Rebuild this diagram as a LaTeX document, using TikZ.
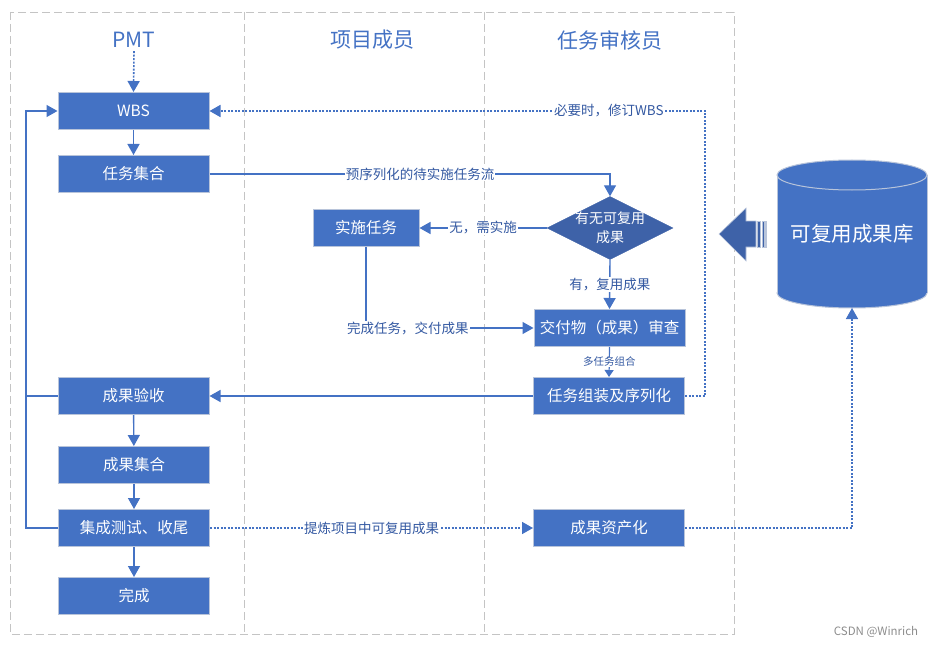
\documentclass[tikz,border=0pt]{standalone}
\usepackage{fontspec}
\setmainfont{Noto Sans CJK SC}
\usetikzlibrary{arrows.meta,shapes.geometric}
\definecolor{bblue}{HTML}{4472C4}
\definecolor{dblue}{HTML}{3E62A8}
\definecolor{lblue}{HTML}{3459A2}
\definecolor{framec}{HTML}{C4C4C4}
\definecolor{bord}{HTML}{B8C4DA}
\begin{document}
\begin{tikzpicture}[x=1pt,y=-1pt,
  box/.style={draw=bord, line width=1pt, fill=bblue, text=white, minimum width=151pt, minimum height=37pt, inner sep=0pt, font=\fontsize{15.5}{18}\selectfont},
  diam/.style={shape=diamond, draw=dblue, fill=dblue, minimum width=126pt, minimum height=63pt, inner sep=0pt},
  conn/.style={draw=bblue, line width=1.4pt, -{Triangle[length=11pt,width=12pt]}},
  plain/.style={draw=bblue, line width=1.4pt},
  dconn/.style={conn, dash pattern=on 2pt off 1.5pt, line width=1.6pt},
  lbl/.style={fill=white, text=lblue, font=\fontsize{13.5}{15}\selectfont, inner sep=1pt},
  hdr/.style={text=bblue, font=\fontsize{21}{24}\selectfont},
  framel/.style={draw=framec, line width=0.9pt, dash pattern=on 8pt off 4pt}
]
\useasboundingbox (0,0) rectangle (936,647);
% frame
\draw[framel] (10,12) rectangle (734,634);
\draw[framel] (244,12) -- (244,634);
\draw[framel] (484,12) -- (484,634);
% headers
\node[hdr] (pmt) at (134,40) {PMT};
\node[hdr] (hmem) at (372,40) {项目成员};
\node[hdr] (hrev) at (610,40) {任务审核员};
% boxes
\node[box] (wbs) at (133.5,111) {WBS};
\node[box] (tasks) at (133.5,174) {任务集合};
\node[box] (impl) at (366,228) [minimum width=106pt] {实施任务};
\node[diam] (dia) at (610,228) {};
\node[text=white, align=center, font=\fontsize{14}{19}\selectfont] (diat) at (610,228) {有无可复用\\成果};
\node[box] (review) at (609.5,328) {交付物（成果）审查};
\node[box] (assem) at (609,396) {任务组装及序列化};
\node[box] (accept) at (133.5,396) {成果验收};
\node[box] (colset) at (134,465) {成果集合};
\node[box] (integ) at (134,528) {集成测试、收尾};
\node[box] (done) at (134,596) {完成};
\node[box] (asset) at (609,528) {成果资产化};
% cylinder
\fill[bblue, draw=bord, line width=1pt] (852,293) ellipse [x radius=75, y radius=15];
\fill[bblue] (777,175) rectangle (927,293);
\draw[bord, line width=1pt] (777,175) -- (777,293) (927,175) -- (927,293);
\fill[bblue, draw=bord, line width=1pt] (852,175) ellipse [x radius=75, y radius=15];
\node[text=white, font=\fontsize{20.5}{24}\selectfont] (lib) at (852,234) {可复用成果库};
\coordinate (libb) at (852,308);
% block arrow
\fill[dblue, draw=bord, line width=0.6pt] (719,234) -- (746,208) -- (746,221) -- (756,221) -- (756,247) -- (746,247) -- (746,261) -- cycle;
\fill[dblue, draw=bord, line width=0.4pt] (757.5,221) rectangle (760.5,247);
\fill[dblue, draw=bord, line width=0.4pt] (762,221) rectangle (764,247);
\fill[dblue, draw=bord, line width=0.4pt] (765,221) rectangle (766.5,247);
% connectors
\draw[dconn] (pmt.south) -- (wbs.north);
\draw[conn] (wbs) -- (tasks);
\draw[conn] (tasks.east) -| (dia.north) node[lbl, pos=0.263] {预序列化的待实施任务流};
\draw[conn] (dia.west) -- (impl.east) node[lbl, midway] {无，需实施};
\draw[conn] (dia.south) -- (review.north) node[lbl, midway] {有，复用成果};
\draw[conn] (impl.south) |- (review.west) node[lbl, pos=0.625] {完成任务，交付成果};
\draw[draw=bblue, line width=1.2pt, -{Triangle[length=7pt,width=9pt]}] (review.south) -- (assem.north) node[lbl, midway, font=\fontsize{10.5}{12}\selectfont, inner sep=0.5pt] {多任务组合};
\draw[conn] (assem.west) -- (accept.east);
\coordinate (rv) at (705,396);
\draw[dconn] (assem.east) -- (rv) |- (wbs.east) node[lbl, pos=0.597] {必要时，修订WBS};
\draw[conn] (accept) -- (colset);
\draw[conn] (colset) -- (integ);
\draw[conn] (integ) -- (done);
\coordinate (lb) at (26,528);
\coordinate (lt) at (26,111);
\draw[conn] (integ.west) -- (lb) -- (lt) -- (wbs.west);
\draw[plain] (accept.west) -- (accept.west -| lb);
\draw[dconn] (integ.east) -- (asset.west) node[lbl, midway] {提炼项目中可复用成果};
\draw[dconn] (asset.east) -| (libb);
% watermark
\node[text=black!45, font=\fontsize{11.5}{13}\selectfont] (wm) at (876,632) {CSDN @Winrich};
\end{tikzpicture}
\end{document}
